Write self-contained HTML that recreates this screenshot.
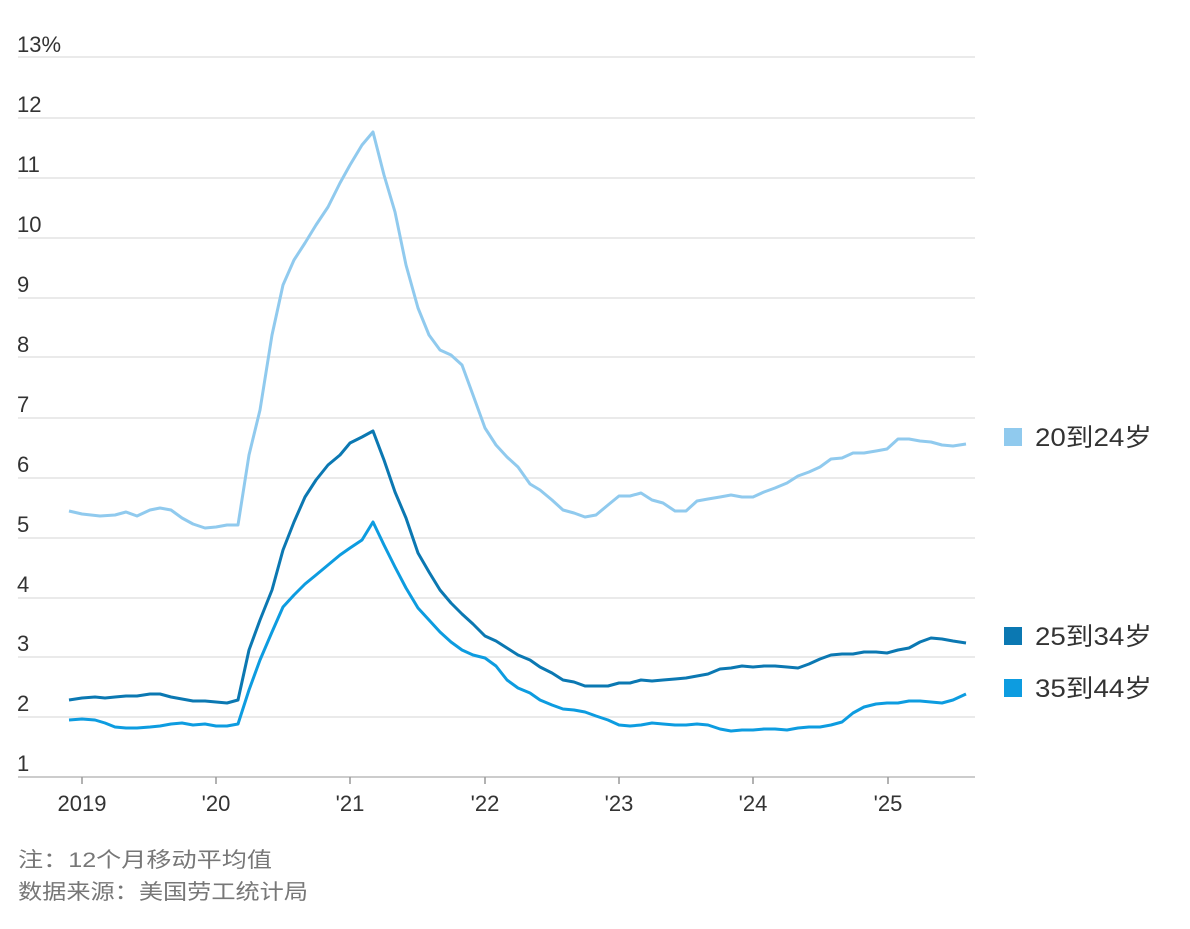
<!DOCTYPE html>
<html><head><meta charset="utf-8"><style>
body{margin:0;background:#fff;}
svg text{font-family:"Liberation Sans","Noto Sans CJK SC",sans-serif;}
</style></head><body>
<svg width="1190" height="924" viewBox="0 0 1190 924" xmlns="http://www.w3.org/2000/svg">
<g stroke="#e3e3e3" stroke-width="1.5">
<line x1="18" x2="975" y1="57" y2="57"/><line x1="18" x2="975" y1="118" y2="118"/>
<line x1="18" x2="975" y1="178" y2="178"/><line x1="18" x2="975" y1="238" y2="238"/>
<line x1="18" x2="975" y1="298" y2="298"/><line x1="18" x2="975" y1="357" y2="357"/>
<line x1="18" x2="975" y1="418" y2="418"/><line x1="18" x2="975" y1="478" y2="478"/>
<line x1="18" x2="975" y1="538" y2="538"/><line x1="18" x2="975" y1="598" y2="598"/>
<line x1="18" x2="975" y1="657" y2="657"/><line x1="18" x2="975" y1="717" y2="717"/>
</g>
<line x1="18" x2="975" y1="777" y2="777" stroke="#bbb" stroke-width="1.5"/>
<g stroke="#999" stroke-width="1.5">
<line x1="82" x2="82" y1="777" y2="784"/><line x1="216" x2="216" y1="777" y2="784"/>
<line x1="350" x2="350" y1="777" y2="784"/><line x1="485" x2="485" y1="777" y2="784"/>
<line x1="619" x2="619" y1="777" y2="784"/><line x1="753" x2="753" y1="777" y2="784"/>
<line x1="888" x2="888" y1="777" y2="784"/>
</g>
<g fill="#333" font-size="22">
<text x="17" y="52">13%</text><text x="17" y="112">12</text><text x="17" y="172">11</text>
<text x="17" y="232">10</text><text x="17" y="292">9</text><text x="17" y="352">8</text>
<text x="17" y="412">7</text><text x="17" y="472">6</text><text x="17" y="532">5</text>
<text x="17" y="592">4</text><text x="17" y="651">3</text><text x="17" y="711">2</text>
<text x="17" y="771">1</text>
</g>
<g fill="#333" font-size="22" text-anchor="middle">
<text x="82" y="811">2019</text><text x="216" y="811">'20</text><text x="350" y="811">'21</text>
<text x="485" y="811">'22</text><text x="619" y="811">'23</text><text x="753" y="811">'24</text>
<text x="888" y="811">'25</text>
</g>
<g fill="none" stroke-width="3" stroke-linejoin="round">
<polyline stroke="#90caee" points="69,511 82,514 100,516 115,515 126,512 137,516 150,510 160,508 171,510 182,518 193,524 205,528 216,527 227,525 238,525 249,455 260,410 272,335 283,285 294,260 305,243 316,225 328,207 340,183 350,165 362,145 373,132 384,175 395,212 406,265 418,308 429,335 440,350 451,355 462,365 473,395 485,428 496,445 507,457 518,467 530,484 540,490 552,500 563,510 574,513 585,517 596,515 608,505 619,496 630,496 641,493 652,500 663,503 675,511 686,511 697,501 708,499 720,497 731,495 742,497 753,497 764,492 775,488 787,483 798,476 809,472 820,467 831,459 842,458 853,453 864,453 876,451 887,449 898,439 909,439 920,441 931,442 942,445 953,446 966,444"/>
<polyline stroke="#0b78b2" points="69,700 82,698 95,697 105,698 115,697 126,696 137,696 150,694 160,694 171,697 182,699 193,701 205,701 216,702 227,703 238,700 249,650 260,620 272,590 283,550 294,522 305,497 316,480 328,465 340,455 350,443 362,437 373,431 384,460 395,492 406,518 418,553 429,572 440,590 451,603 462,614 473,624 485,636 496,641 507,648 518,655 530,660 540,667 552,673 563,680 574,682 585,686 596,686 608,686 619,683 630,683 641,680 652,681 663,680 675,679 686,678 697,676 708,674 720,669 731,668 742,666 753,667 764,666 775,666 787,667 798,668 809,664 820,659 831,655 842,654 853,654 864,652 876,652 887,653 898,650 909,648 920,642 931,638 942,639 953,641 966,643"/>
<polyline stroke="#0d9ce0" points="69,720 82,719 95,720 105,723 115,727 126,728 137,728 150,727 160,726 171,724 182,723 193,725 205,724 216,726 227,726 238,724 249,690 260,660 272,632 283,607 294,595 305,584 316,575 328,565 340,555 350,548 362,540 373,522 384,545 395,567 406,588 418,608 429,620 440,632 451,642 462,650 473,655 485,658 496,666 507,680 518,688 530,693 540,700 552,705 563,709 574,710 585,712 596,716 608,720 619,725 630,726 641,725 652,723 663,724 675,725 686,725 697,724 708,725 720,729 731,731 742,730 753,730 764,729 775,729 787,730 798,728 809,727 820,727 831,725 842,722 853,713 864,707 876,704 887,703 898,703 909,701 920,701 931,702 942,703 953,700 966,694"/>
</g>
<rect x="1004" y="428" width="18" height="18" fill="#90caee"/>
<rect x="1004" y="627" width="18" height="18" fill="#0b78b2"/>
<rect x="1004" y="679" width="18" height="18" fill="#0d9ce0"/>
<g fill="#333" font-size="25">
<text x="1035" y="446" textLength="117" lengthAdjust="spacingAndGlyphs">20到24岁</text>
<text x="1035" y="645" textLength="117" lengthAdjust="spacingAndGlyphs">25到34岁</text>
<text x="1035" y="697" textLength="117" lengthAdjust="spacingAndGlyphs">35到44岁</text>
</g>
<g fill="#777" font-size="21">
<text x="18" y="867" textLength="254" lengthAdjust="spacingAndGlyphs">注：12个月移动平均值</text>
<text x="18" y="899" textLength="290" lengthAdjust="spacingAndGlyphs">数据来源：美国劳工统计局</text>
</g>
</svg>
</body></html>
